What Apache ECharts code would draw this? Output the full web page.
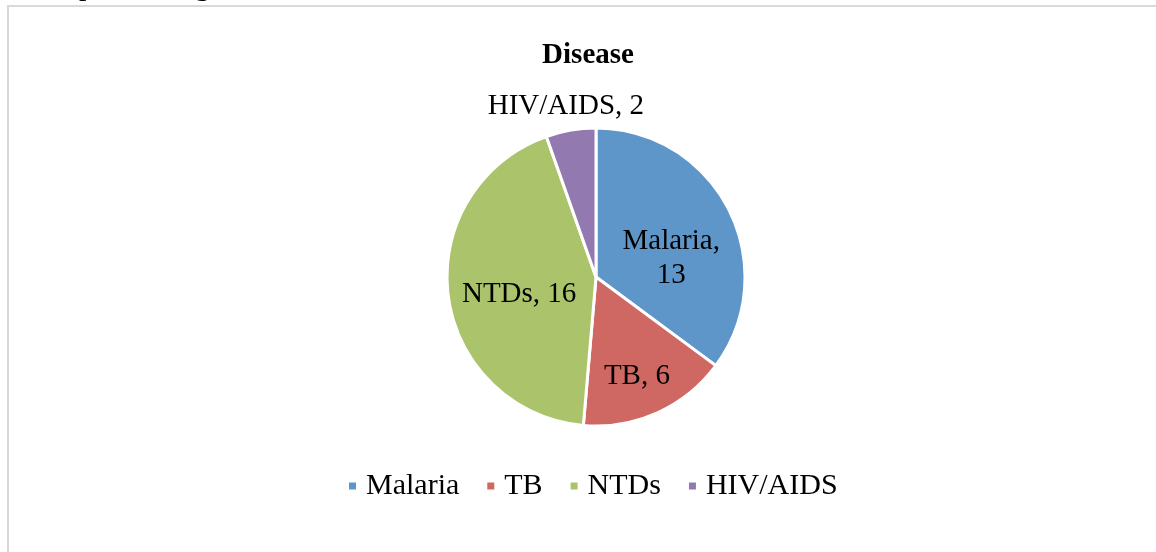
<!DOCTYPE html>
<html>
<head>
<meta charset="utf-8">
<script src="https://cdn.jsdelivr.net/npm/echarts@6/dist/echarts.min.js"></script>
<style>
	html, body { margin: 0; padding: 0; background: #fff; }
	#chart { width: 1156px; height: 552px; }
</style>
</head>
<body>
<div id="chart"></div>
<script>
// disease counts
const diseases = ['Malaria', 'TB', 'NTDs', 'HIV/AIDS'];
const counts = [13, 6, 16, 2];
const colors = ['#5f96c9', '#cf6762', '#abc46c', '#9279b0'];

// label nudges (dx, dy) from the default inside spot
const labelShift = [[6, 16], [9, 29], [0, 8], [-17, -94]];

const serif = '"Liberation Serif", "Times New Roman", serif';

const myChart = echarts.init(document.getElementById('chart'));

const option = {
	animation: false,
	color: colors,
	textStyle: { fontFamily: serif },
	title: {
		text: 'Disease',
		left: 583,
		top: 36,
		textAlign: 'center',
		textStyle: { fontFamily: serif, fontSize: 29, fontWeight: 'bold', color: '#000' }
	},
	legend: {
		data: diseases,
		left: 347,
		top: 471,
		padding: 0,
		icon: 'rect',
		itemWidth: 9,
		itemHeight: 9,
		itemGap: 26,
		textStyle: { fontFamily: serif, fontSize: 30, color: '#000', padding: [0, 0, 0, 4] }
	},
	graphic: [
		{
			type: 'rect',
			shape: { x: 8, y: 6, width: 1200, height: 600 },
			style: { fill: 'none', stroke: '#d9d9d9', lineWidth: 2 }
		},
		{
			type: 'text',
			x: -1,
			y: -13,
			style: {
				text: 'development stage is shown below.',
				font: '30px "Liberation Serif", serif',
				fill: '#000',
				verticalAlign: 'middle'
			}
		}
	],
	series: [{
		type: 'pie',
		center: [596, 277],
		radius: 149,
		startAngle: 90,
		clockwise: true,
		avoidLabelOverlap: false,
		itemStyle: { borderColor: '#fff', borderWidth: 3 },
		label: {
			show: true,
			position: 'inside',
			formatter: (p) => p.dataIndex === 0 ? p.name + ',\n' + p.value : p.name + ', ' + p.value,
			fontFamily: serif,
			fontSize: 29,
			lineHeight: 34,
			color: '#000'
		},
		labelLine: { show: false },
		labelLayout: (params) => ({
			dx: labelShift[params.dataIndex][0],
			dy: labelShift[params.dataIndex][1]
		}),
		emphasis: { disabled: true },
		data: diseases.map((name, i) => ({ name: name, value: counts[i] }))
	}]
};

myChart.setOption(option);
</script>
</body>
</html>
